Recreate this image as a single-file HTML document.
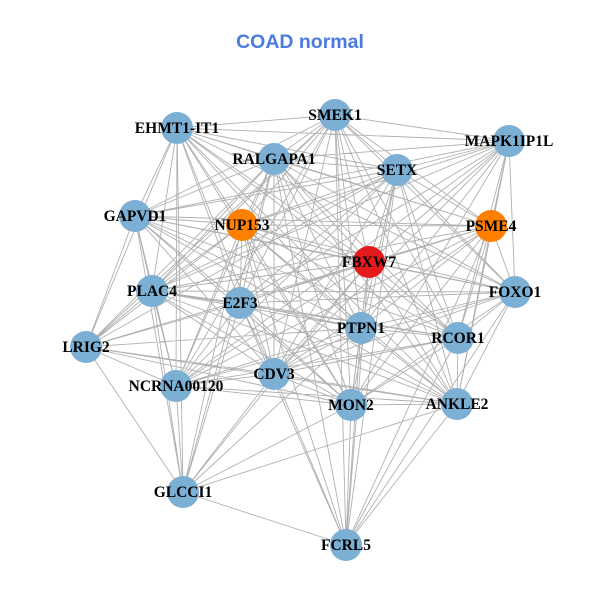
<!DOCTYPE html>
<html><head><meta charset="utf-8"><style>
html,body{margin:0;padding:0;background:#fff;width:600px;height:600px;overflow:hidden}
svg text{font-family:"Liberation Serif",serif;font-weight:bold;font-size:15.5px;fill:#000}
</style></head><body>
<svg id="g" width="600" height="600" xmlns="http://www.w3.org/2000/svg">
<text x="300" y="48" text-anchor="middle" style="font-family:'Liberation Sans',sans-serif;font-size:19.5px;fill:#4b7be0;font-weight:bold">COAD normal</text>
<g id="edges" stroke="#b0b0b0" stroke-width="0.9"></g>
<g id="nodes"></g>
<g id="labels"></g>
</svg>
<script>
var N=[["SMEK1",335,115,"#7bafd4"],["EHMT1-IT1",177,128,"#7bafd4"],["MAPK1IP1L",509,141,"#7bafd4"],["RALGAPA1",274,159,"#7bafd4"],["SETX",397,170,"#7bafd4"],["GAPVD1",135,216,"#7bafd4"],["NUP153",242,225,"#ff8000"],["PSME4",491,226,"#ff8000"],["FBXW7",369,262,"#e41a1c"],["FOXO1",515,292,"#7bafd4"],["PLAC4",152,291,"#7bafd4"],["E2F3",240,303,"#7bafd4"],["PTPN1",361,328,"#7bafd4"],["RCOR1",458,338,"#7bafd4"],["LRIG2",86,347,"#7bafd4"],["CDV3",274,374,"#7bafd4"],["NCRNA00120",176,386,"#7bafd4"],["MON2",351,405,"#7bafd4"],["ANKLE2",457,404,"#7bafd4"],["GLCCI1",183,492,"#7bafd4"],["FCRL5",346,545,"#7bafd4"]];
var skip={"19-2":1,"19-9":1,"19-7":1,"14-2":1,"14-9":1,"20-2":1,"20-5":1,"20-14":1,"20-1":1,"19-13":1,"19-0":1,"14-7":1,"20-10":1,"19-4":1,"14-13":1,"20-16":1};
var NS="http://www.w3.org/2000/svg",d="";
for(var i=0;i<N.length;i++)for(var j=0;j<i;j++){if(skip[i+"-"+j])continue;d+="M"+N[i][1]+" "+N[i][2]+"L"+N[j][1]+" "+N[j][2];}
var p=document.createElementNS(NS,"path");p.setAttribute("d",d);p.setAttribute("fill","none");document.getElementById("edges").appendChild(p);
N.forEach(function(n){var c=document.createElementNS(NS,"circle");c.setAttribute("cx",n[1]);c.setAttribute("cy",n[2]);c.setAttribute("r",16);c.setAttribute("fill",n[3]);document.getElementById("nodes").appendChild(c);
var t=document.createElementNS(NS,"text");t.setAttribute("x",n[1]);t.setAttribute("y",n[2]+5);t.setAttribute("text-anchor","middle");t.textContent=n[0];document.getElementById("labels").appendChild(t);});
</script>
</body></html>
